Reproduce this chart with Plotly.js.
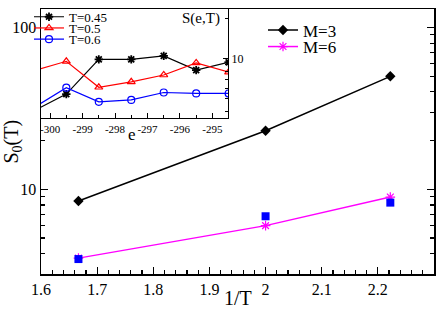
<!DOCTYPE html>
<html><head><meta charset="utf-8">
<script src="https://cdn.plot.ly/plotly-3.0.1.min.js"></script>
<style>html,body{margin:0;padding:0;background:#fff}</style>
</head><body><div id="chart" style="width:436px;height:309px"></div>
<script>
// main chart data
const invT = [1.6667, 2.0, 2.2222];
const sM3 = [8.48, 23.0, 49.9];
const sM6 = [3.76, 5.97, 8.96];
const sSquares = [3.71, 6.82, 8.28];
// inset data
const eBins = [-300.5, -299.5, -298.5, -297.5, -296.5, -295.5, -294.5];
const sT045 = [4.07, 5.43, 9.88, 9.88, 10.5, 8.21, 9.4];
const sT05 = [8.12, 9.56, 6.11, 6.71, 7.55, 9.30, 7.94];
const sT06 = [4.30, 6.07, 4.75, 4.91, 5.58, 5.49, 5.49];
// ticks
const xTickVals = [1.6, 1.7, 1.8, 1.9, 2, 2.1, 2.2];
const xTickText = ['1.6', '1.7', '1.8', '1.9', '2', '2.1', '2.2'];
const yTickVals = [10, 100];
const yTickText = ['10', '100'];
const yMinorVals = [3, 4, 5, 6, 7, 8, 9, 20, 30, 40, 50, 60, 70, 80, 90];
const insetXTickVals = [-300, -299, -298, -297, -296, -295];
const insetXTickText = ['-300', '-299', '-298', '-297', '-296', '-295'];
const insetYTickVals = [10];
const insetYTickText = ['10'];
const insetYMinorVals = [4, 5, 6, 7, 8, 9, 20];

const FONT = 'Liberation Serif, Times New Roman, serif';
const W = 436, H = 309, ML = 41, MR = 2, MT = 2, MB = 35;
const PW = W - ML - MR, PH = H - MT - MB;
const px = x => (x - ML) / PW;
const py = y => (H - MB - y) / PH;

const traces = [
  {x: invT, y: sM3, name: 'M=3', mode: 'lines+markers', xaxis: 'x', yaxis: 'y', legend: 'legend',
   line: {color: '#000', width: 1.5}, marker: {symbol: 'diamond', size: 8, color: '#000'}},
  {x: invT, y: sM6, name: 'M=6', mode: 'lines+markers', xaxis: 'x', yaxis: 'y', legend: 'legend2',
   line: {color: '#ff00ff', width: 1.5}, marker: {symbol: 'asterisk-open', size: 8, color: '#ff00ff', line: {color: '#ff00ff', width: 1.2}}},
  {x: invT, y: sSquares, name: 'sq', mode: 'markers', xaxis: 'x', yaxis: 'y', showlegend: false,
   marker: {symbol: 'square', size: 8, color: '#0000ff'}},
  {x: eBins, y: sT045, name: 'T=0.45', mode: 'lines+markers', xaxis: 'x2', yaxis: 'y2', legend: 'legend3',
   line: {color: '#000', width: 1.2}, marker: {symbol: 'asterisk-open', size: 7, color: '#000', line: {color: '#000', width: 1.8}}},
  {x: eBins, y: sT05, name: 'T=0.5', mode: 'lines+markers', xaxis: 'x2', yaxis: 'y2', legend: 'legend4',
   line: {color: '#ff0000', width: 1.2}, marker: {symbol: 'triangle-up-open', size: 7, color: '#ff0000', line: {color: '#ff0000', width: 1.2}}},
  {x: eBins, y: sT06, name: 'T=0.6', mode: 'lines+markers', xaxis: 'x2', yaxis: 'y2', legend: 'legend5',
   line: {color: '#0000ff', width: 1.2}, marker: {symbol: 'circle-open', size: 7, color: '#0000ff', line: {color: '#0000ff', width: 1.2}}}
];

function leg(x, y, size) {
  return {x: x, y: y, xanchor: 'left', yanchor: 'middle', bgcolor: 'rgba(0,0,0,0)',
          borderwidth: 0, font: {family: FONT, size: size, color: '#000'}, tracegroupgap: 0};
}

const layout = {
  width: W, height: H,
  margin: {l: ML, r: MR, t: MT, b: MB, pad: 0},
  paper_bgcolor: '#fff', plot_bgcolor: '#fff',
  font: {family: FONT, color: '#000'},
  showlegend: true,
  legend: leg(px(263), py(24), 17),
  legend2: leg(px(263), py(41), 17),
  legend3: leg(px(29), py(10), 13),
  legend4: leg(px(29), py(21.5), 13),
  legend5: leg(px(29), py(33), 13),
  xaxis: {domain: [0, 1], anchor: 'y', range: [1.6, 2.3], tickmode: 'array', tickvals: xTickVals, ticktext: xTickText,
          ticks: 'inside', ticklen: 7, tickwidth: 1.2, tickcolor: '#000',
          minor: {tick0: 1.6, dtick: 0.02, ticks: 'inside', ticklen: 4, tickwidth: 1.2, tickcolor: '#000', showgrid: false},
          showline: true, linewidth: 1.5, linecolor: '#000', mirror: true, showgrid: false, zeroline: false,
          tickfont: {family: FONT, size: 16, color: '#000'}},
  yaxis: {domain: [0, 1], anchor: 'x', type: 'log', range: [Math.log10(3), Math.log10(130)],
          tickmode: 'array', tickvals: yTickVals, ticktext: yTickText,
          ticks: 'inside', ticklen: 7, tickwidth: 1.2, tickcolor: '#000',
          minor: {tickmode: 'array', tickvals: yMinorVals, ticks: 'inside', ticklen: 4, tickwidth: 1.2, tickcolor: '#000', showgrid: false},
          showline: true, linewidth: 1.5, linecolor: '#000', mirror: 'ticks', showgrid: false, zeroline: false,
          tickfont: {family: FONT, size: 16, color: '#000'}},
  xaxis2: {domain: [0, px(228)], anchor: 'y2', range: [-300.28, -294.52], tickmode: 'array',
           tickvals: insetXTickVals, ticktext: insetXTickText,
           ticks: 'inside', ticklen: 5, tickwidth: 1, tickcolor: '#000',
           minor: {tick0: -300, dtick: 0.5, ticks: 'inside', ticklen: 3, tickwidth: 1, tickcolor: '#000', showgrid: false},
           showline: true, linewidth: 1.2, linecolor: '#000', mirror: true, showgrid: false, zeroline: false,
           tickfont: {family: FONT, size: 11, color: '#000'}},
  yaxis2: {domain: [py(114), 1], anchor: 'x2', side: 'right', type: 'log', range: [0.555, 1.372],
           tickmode: 'array', tickvals: insetYTickVals, ticktext: insetYTickText,
           ticks: 'inside', ticklen: 5, tickwidth: 1, tickcolor: '#000',
           minor: {tickmode: 'array', tickvals: insetYMinorVals, ticks: 'inside', ticklen: 3, tickwidth: 1, tickcolor: '#000', showgrid: false},
           showline: true, linewidth: 1.2, linecolor: '#000', mirror: true, showgrid: false, zeroline: false,
           tickfont: {family: FONT, size: 12, color: '#000'}},
  annotations: [
    {text: '1/T', xref: 'paper', yref: 'paper', x: px(237.5), y: py(299), showarrow: false,
     xanchor: 'center', yanchor: 'middle', font: {family: FONT, size: 20, color: '#000'}},
    {text: 'S<sub>0</sub>(T)', xref: 'paper', yref: 'paper', x: px(12), y: py(138), showarrow: false, textangle: -90,
     xanchor: 'center', yanchor: 'middle', font: {family: FONT, size: 20, color: '#000'}},
    {text: 'S(e,T)', xref: 'paper', yref: 'paper', x: px(201), y: py(12), showarrow: false,
     xanchor: 'center', yanchor: 'middle', font: {family: FONT, size: 15, color: '#000'}},
    {text: 'e', xref: 'paper', yref: 'paper', x: px(132), y: py(131), showarrow: false,
     xanchor: 'center', yanchor: 'middle', font: {family: FONT, size: 17, color: '#000'}}
  ]
};

Plotly.newPlot('chart', traces, layout, {displayModeBar: false, staticPlot: true});
</script>
</body></html>
